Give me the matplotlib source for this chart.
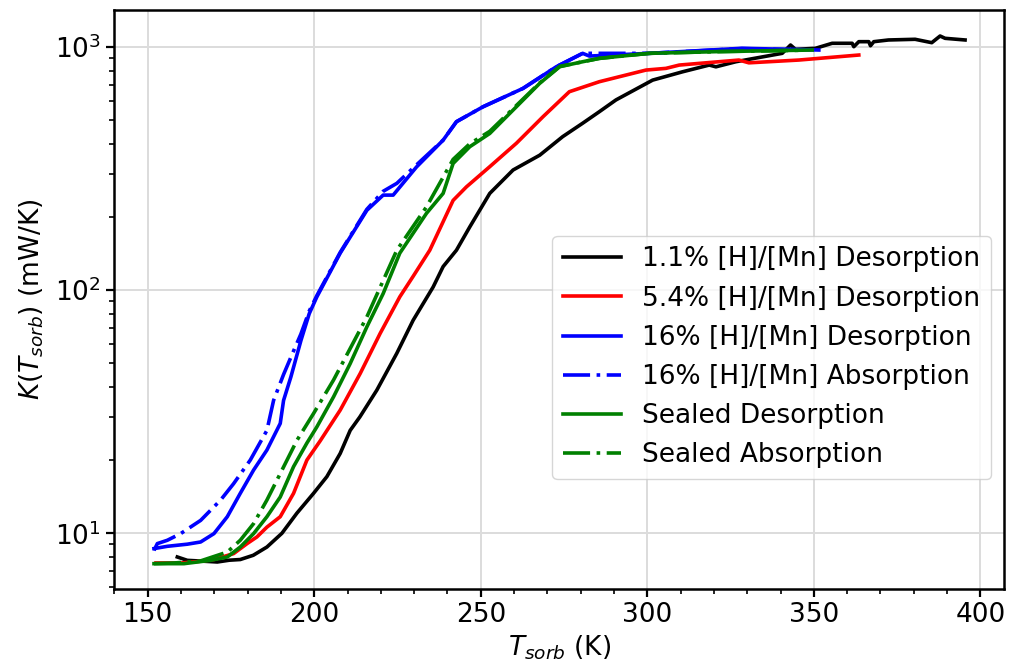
import matplotlib
matplotlib.use("Agg")
import matplotlib.pyplot as plt
from matplotlib.ticker import MultipleLocator

# 1.1% [H]/[Mn] desorption
t_h11_des = [158.9, 161.9, 165.0, 170.9, 174.5, 177.8, 181.7, 185.8, 190.3, 194.8, 199.8,
             203.8, 207.8, 210.8, 213.7, 218.8, 224.8, 229.7, 235.7, 238.7, 242.7,
             246.7, 252.7, 259.7, 267.7, 274.6, 280.6, 285.6, 290.6, 301.6, 310.6,
             318.6, 320.6, 326.6, 330.5, 340.5, 343.0, 344.5, 350.5, 355.5, 361.5,
             362.0, 363.5, 366.5, 367.0, 368.0, 372.4, 380.4, 385.4, 387.9, 389.4, 395.4]
k_h11_des = [7.99, 7.74, 7.70, 7.62, 7.75, 7.80, 8.12, 8.78, 10.0, 12.1, 14.6,
             17.1, 21.3, 26.5, 30.1, 38.8, 55.0, 75.2, 103, 125, 146,
             182, 250, 312, 359, 428, 486, 542, 606, 731, 791,
             843, 829, 870, 890, 942, 1019, 978, 988, 1036, 1036,
             1003, 1052, 1052, 1012, 1052, 1069, 1076, 1042, 1110, 1086, 1069]

# 5.4% [H]/[Mn] desorption
t_h54_des = [152.5, 160.0, 165.0, 169.9, 175.8, 179.9, 182.8, 185.8, 189.8, 193.8,
             197.8, 201.8, 207.8, 213.8, 219.8, 225.7, 229.7, 234.7, 241.7, 245.7,
             252.7, 260.7, 268.7, 276.6, 285.6, 299.6, 305.6, 309.6, 327.5, 330.5,
             345.5, 363.5]
k_h54_des = [7.55, 7.55, 7.65, 7.80, 8.25, 9.08, 9.66, 10.6, 11.7, 14.6,
             20.0, 24.0, 32.1, 45.4, 66.4, 93.9, 114, 146, 234, 266,
             322, 402, 517, 655, 720, 804, 817, 843, 884, 861,
             884, 927]

# 16% [H]/[Mn] desorption
t_h16_des = [151.9, 155.9, 161.9, 165.9, 169.9, 173.9, 177.8, 181.8, 185.8, 189.8,
             190.8, 193.0, 196.0, 198.5, 200.8, 207.8, 215.8, 220.7, 223.7, 230.7,
             238.7, 242.7, 250.7, 262.7, 272.7, 280.6, 282.6, 300.6, 328.4, 351.5]
k_h16_des = [8.65, 8.84, 9.02, 9.21, 9.97, 11.7, 14.6, 18.2, 22.0, 28.3,
             35.2, 44.0, 62.0, 80.0, 93.9, 142, 213, 246, 246, 321,
             414, 493, 568, 676, 830, 942, 918, 942, 988, 972]

# 16% [H]/[Mn] absorption
t_h16_abs = [151.9, 152.9, 155.9, 159.9, 165.9, 171.9, 175.8, 180.8, 185.8, 187.8,
             190.8, 193.5, 196.0, 198.5, 200.8, 207.8, 215.8, 220.7, 224.8, 229.7,
             238.7, 242.7, 250.7, 262.7, 272.7, 280.6, 300.6, 328.4, 345.0]
k_h16_abs = [8.5, 9.07, 9.36, 9.97, 11.3, 13.7, 16.0, 20.0, 26.5, 35.2,
             45.0, 55.0, 66.0, 82.0, 95.0, 143, 215, 255, 275, 318,
             414, 493, 568, 676, 830, 942, 942, 985, 975]

# Sealed desorption
t_seal_des = [151.9, 160.9, 168.9, 173.9, 177.8, 181.8, 185.8, 189.8, 193.8, 197.8,
              200.8, 205.8, 210.8, 215.8, 220.7, 225.7, 233.7, 238.7, 241.7, 246.7,
              252.7, 260.7, 267.7, 273.7, 280.6, 285.6, 300.6, 320.6, 349.5]
k_seal_des = [7.50, 7.50, 7.74, 7.99, 8.78, 9.97, 11.7, 14.1, 18.8, 23.5,
              27.4, 36.4, 49.9, 70.6, 96.8, 142, 207, 250, 332, 389,
              441, 568, 709, 830, 870, 898, 942, 957, 972]

# Sealed absorption
t_seal_abs = [151.9, 158.0, 165.9, 173.9, 177.8, 181.8, 185.8, 189.8, 194.8, 199.8,
              205.8, 215.8, 224.8, 233.7, 241.7, 246.7, 252.7, 260.7, 267.7, 273.7,
              285.6, 300.6, 320.6, 347.0]
k_seal_abs = [7.50, 7.55, 7.70, 8.37, 9.36, 10.96, 13.7, 17.6, 24.1, 31.1,
              42.7, 77.6, 146, 220, 345, 400, 450, 575, 712, 832,
              898, 942, 957, 970]

x_label = r"$T_{sorb}$ (K)"
y_label = r"$K(T_{sorb})$ (mW/K)"

series = [
    (t_h11_des, k_h11_des, "k", "-", "1.1% [H]/[Mn] Desorption"),
    (t_h54_des, k_h54_des, "r", "-", "5.4% [H]/[Mn] Desorption"),
    (t_h16_des, k_h16_des, "b", "-", "16% [H]/[Mn] Desorption"),
    (t_h16_abs, k_h16_abs, "b", "-.", "16% [H]/[Mn] Absorption"),
    (t_seal_des, k_seal_des, "g", "-", "Sealed Desorption"),
    (t_seal_abs, k_seal_abs, "g", "-.", "Sealed Absorption"),
]

plt.rcParams["font.family"] = ["DejaVu Sans"]
plt.rcParams["font.size"] = 19
plt.rcParams["mathtext.fontset"] = "dejavusans"

fig = plt.figure(figsize=(10.10, 6.71), dpi=100)
ax = fig.add_axes([0.1129, 0.1222, 0.8812, 0.8629])

for t, k, c, ls, lab in series:
    line, = ax.plot(t, k, color=c, linestyle=ls, linewidth=2.6, label=lab)
    if ls == "-.":
        line.set_dashes((7.5, 1.8, 1.0, 1.8))

ax.set_yscale("log")
ax.set_xlim(139.9, 407.1)
ax.set_ylim(5.9, 1420)
ax.xaxis.set_major_locator(MultipleLocator(50))
ax.xaxis.set_minor_locator(MultipleLocator(10))

ax.grid(True, which="major", color="#dcdcdc", linewidth=1.4)
ax.set_axisbelow(True)
for s in ax.spines.values():
    s.set_linewidth(1.8)
ax.tick_params(which="major", length=6, width=1.6, labelsize=19)
ax.tick_params(which="minor", length=3.5, width=1.2)

ax.set_xlabel(x_label, fontsize=19, labelpad=4)
ax.set_ylabel(y_label, fontsize=19, labelpad=6)

leg = ax.legend(loc="center right", bbox_to_anchor=(1.0, 0.40), fontsize=19,
                handlelength=2.2, handletextpad=0.8, framealpha=0.8,
                labelspacing=0.5)
leg.get_frame().set_linewidth(1.0)

fig.savefig("out.png", dpi=100)
